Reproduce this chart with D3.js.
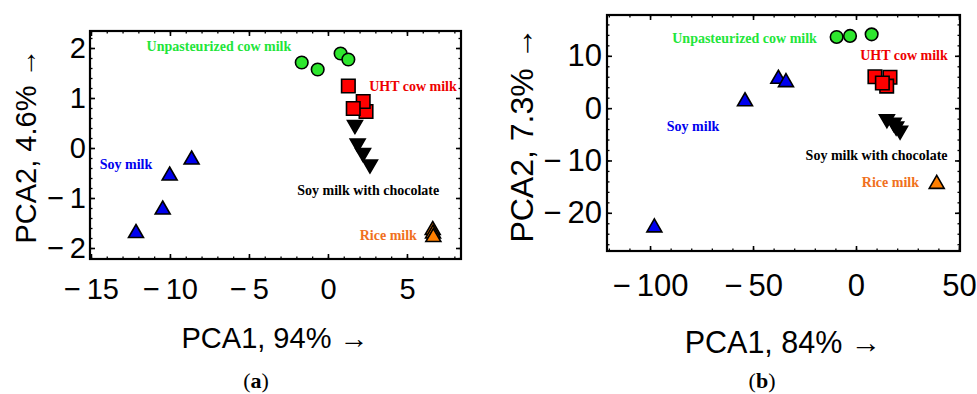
<!DOCTYPE html>
<html>
<head>
<meta charset="utf-8">
<script src="https://cdn.jsdelivr.net/npm/d3@7"></script>
<style>
  html, body { margin: 0; padding: 0; background: #fff; }
  svg { display: block; }
</style>
</head>
<body>
<svg id="chart" width="977" height="394"></svg>
<script>
// ---------- DATA ----------
const categories = ["Unpasteurized cow milk", "UHT cow milk", "Soy milk", "Soy milk with chocolate", "Rice milk"];

// Panel (a)
const aUnpasteurized = [[-1.66, 1.71], [-0.65, 1.57], [0.80, 1.89], [1.29, 1.77]];
const aUHT = [[1.29, 1.24], [2.41, 0.73], [2.23, 0.93], [1.60, 0.79]];
const aSoy = [[-12.15, -1.66], [-10.46, -1.19], [-10.02, -0.51], [-8.63, -0.19]];
const aSoyChoc = [[1.71, 0.42], [1.88, 0.05], [2.22, -0.14], [2.66, -0.37]];
const aRice = [[6.63, -1.60], [6.65, -1.67], [6.67, -1.74]];
const aLabelX = [-6.9, 5.38, -12.78, 2.55, 3.82];
const aLabelY = [2.04, 1.23, -0.32, -0.84, -1.74];
const aXTicks = [-15, -10, -5, 0, 5];
const aYTicks = [-2, -1, 0, 1, 2];
const aXTitle = "PCA1, 94% \u2192";
const aYTitle = "PCA2, 4.6% \u2192";

// Panel (b)
const bUnpasteurized = [[-9.4, 13.6], [-2.9, 13.8], [7.6, 14.1]];
const bUHT = [[9.2, 6.0], [16.5, 5.9], [14.9, 4.2], [12.8, 4.8]];
const bSoy = [[-97.9, -22.4], [-53.9, 1.7], [-37.7, 6.0], [-34.0, 5.35]];
const bSoyChoc = [[15.0, -2.5], [18.3, -3.2], [19.5, -3.9], [21.4, -4.7]];
const bRice = [[39.2, -14.1]];
const bLabelX = [-54.1, 23.3, -79.1, 10.0, 16.7];
const bLabelY = [13.3, 10.1, -3.6, -9.0, -14.3];
const bXTicks = [-100, -50, 0, 50];
const bYTicks = [-20, -10, 0, 10];
const bXTitle = "PCA1, 84% \u2192";
const bYTitle = "PCA2, 7.3% \u2192";

// ---------- STYLE ----------
const markerFill = ["#2ee62e", "#ff0000", "#0000ee", "#000000", "#ff7f00"];
const labelFill = ["#22e53a", "#ee0000", "#0000ee", "#000000", "#f07020"];
const markerShape = ["circle", "square", "up", "down", "up"];

const svg = d3.select("#chart");

function fmt(d) {
  return d < 0 ? "\u2212\u2009" + Math.abs(d) : String(d);
}

function drawPanel(cfg) {
  const x = d3.scaleLinear().domain(cfg.xDomain).range([cfg.left, cfg.right]);
  const y = d3.scaleLinear().domain(cfg.yDomain).range([cfg.bottom, cfg.top]);
  const g = svg.append("g");

  // minor ticks
  const xMinor = d3.range(Math.ceil(cfg.xDomain[0] / cfg.xMinorStep) * cfg.xMinorStep, cfg.xDomain[1], cfg.xMinorStep);
  const yMinor = d3.range(Math.ceil(cfg.yDomain[0] / cfg.yMinorStep) * cfg.yMinorStep, cfg.yDomain[1], cfg.yMinorStep);

  const axes = [
    [d3.axisBottom(x), cfg.bottom, "x"],
    [d3.axisTop(x), cfg.top, "x"],
    [d3.axisLeft(y), cfg.left, "y"],
    [d3.axisRight(y), cfg.right, "y"]
  ];
  axes.forEach(([ax, pos, dim]) => {
    const gg = g.append("g")
      .attr("transform", dim === "x" ? `translate(0,${pos})` : `translate(${pos},0)`);
    gg.call(ax.tickValues(dim === "x" ? xMinor : yMinor).tickSize(-2.5).tickFormat(""));
    gg.select(".domain").remove();
    gg.selectAll("line").attr("stroke", "#000").attr("stroke-width", 1.3);
  });

  // major ticks with labels (bottom & left), unlabeled (top & right)
  const gx = g.append("g").attr("transform", `translate(0,${cfg.bottom})`)
    .call(d3.axisBottom(x).tickValues(cfg.xTicks).tickSize(-5).tickPadding(cfg.xPad).tickFormat(fmt));
  const gy = g.append("g").attr("transform", `translate(${cfg.left},0)`)
    .call(d3.axisLeft(y).tickValues(cfg.yTicks).tickSize(-5).tickPadding(cfg.yPad).tickFormat(fmt));
  const gt = g.append("g").attr("transform", `translate(0,${cfg.top})`)
    .call(d3.axisTop(x).tickValues(cfg.xTicks).tickSize(-5).tickFormat(""));
  const gr = g.append("g").attr("transform", `translate(${cfg.right},0)`)
    .call(d3.axisRight(y).tickValues(cfg.yTicks).tickSize(-5).tickFormat(""));
  [gx, gy, gt, gr].forEach(a => {
    a.select(".domain").remove();
    a.selectAll("line").attr("stroke", "#000").attr("stroke-width", 1.6);
    a.selectAll("text")
      .attr("fill", "#000")
      .style("font-family", "'Liberation Sans', Arial, sans-serif")
      .style("font-size", cfg.tickFont + "px");
  });

  // frame
  g.append("rect")
    .attr("x", cfg.left).attr("y", cfg.top)
    .attr("width", cfg.right - cfg.left).attr("height", cfg.bottom - cfg.top)
    .attr("fill", "none").attr("stroke", "#000").attr("stroke-width", 2.2);

  // markers
  const symCircle = d3.symbol().type(d3.symbolCircle).size(124)();
  const symSquare = d3.symbol().type(d3.symbolSquare).size(182)();
  const triSize = 97;
  const symTri = d3.symbol().type(d3.symbolTriangle).size(triSize)();
  const triOff = Math.sqrt(triSize / (Math.sqrt(3) * 3)) / 2;

  cfg.series.forEach((pts, i) => {
    const shape = markerShape[i];
    g.append("g").selectAll("path").data(pts).join("path")
      .attr("d", shape === "circle" ? symCircle : shape === "square" ? symSquare : symTri)
      .attr("transform", d => {
        const px = x(d[0]), py = y(d[1]);
        if (shape === "up") return `translate(${px},${py + triOff})`;
        if (shape === "down") return `translate(${px},${py - triOff}) rotate(180)`;
        return `translate(${px},${py})`;
      })
      .attr("fill", markerFill[i])
      .attr("stroke", "#000")
      .attr("stroke-width", 1.6)
      .attr("stroke-linejoin", "miter");
  });

  // labels
  g.append("g").selectAll("text").data(categories).join("text")
    .attr("x", (d, i) => x(cfg.labelX[i]))
    .attr("y", (d, i) => y(cfg.labelY[i]))
    .attr("text-anchor", "middle")
    .attr("dominant-baseline", "central")
    .attr("fill", (d, i) => labelFill[i])
    .style("font-family", "'Liberation Serif', 'Times New Roman', serif")
    .style("font-weight", "bold")
    .style("font-size", "14px")
    .text(d => d);

  // axis titles
  g.append("text")
    .attr("x", cfg.xTitlePos[0]).attr("y", cfg.xTitlePos[1])
    .attr("text-anchor", "middle")
    .style("font-family", "'Liberation Sans', Arial, sans-serif")
    .style("font-size", cfg.xTitleFont + "px")
    .text(cfg.xTitle);
  g.append("text")
    .attr("transform", `translate(${cfg.yTitlePos[0]},${cfg.yTitlePos[1]}) rotate(-90)`)
    .attr("text-anchor", "middle")
    .style("font-family", "'Liberation Sans', Arial, sans-serif")
    .style("font-size", cfg.yTitleFont + "px")
    .text(cfg.yTitle);

  // panel letter
  const pl = g.append("text")
    .attr("x", cfg.letterPos[0]).attr("y", cfg.letterPos[1])
    .attr("text-anchor", "middle")
    .style("font-family", "'Liberation Serif', 'Times New Roman', serif")
    .style("font-size", "22px");
  pl.append("tspan").text("(");
  pl.append("tspan").style("font-weight", "bold").text(cfg.letter);
  pl.append("tspan").text(")");
}

drawPanel({
  xDomain: [-15.06, 8.42], yDomain: [-2.22, 2.34],
  left: 90, right: 461, top: 31, bottom: 259,
  xTicks: aXTicks, yTicks: aYTicks, xMinorStep: 1, yMinorStep: 0.2,
  xPad: 19, yPad: 4, tickFont: 29,
  series: [aUnpasteurized, aUHT, aSoy, aSoyChoc, aRice],
  labelX: aLabelX, labelY: aLabelY,
  xTitle: aXTitle, yTitle: aYTitle,
  xTitlePos: [275, 348], yTitlePos: [36, 146],
  xTitleFont: 29, yTitleFont: 29,
  letter: "a", letterPos: [256, 388]
});

drawPanel({
  xDomain: [-120.9, 50.5], yDomain: [-27.3, 17.8],
  left: 607, right: 960, top: 15, bottom: 251,
  xTicks: bXTicks, yTicks: bYTicks, xMinorStep: 10, yMinorStep: 2,
  xPad: 23, yPad: 5, tickFont: 31,
  series: [bUnpasteurized, bUHT, bSoy, bSoyChoc, bRice],
  labelX: bLabelX, labelY: bLabelY,
  xTitle: bXTitle, yTitle: bYTitle,
  xTitlePos: [783, 353], yTitlePos: [533, 135],
  xTitleFont: 30.5, yTitleFont: 32,
  letter: "b", letterPos: [762, 388]
});
</script>
</body>
</html>
